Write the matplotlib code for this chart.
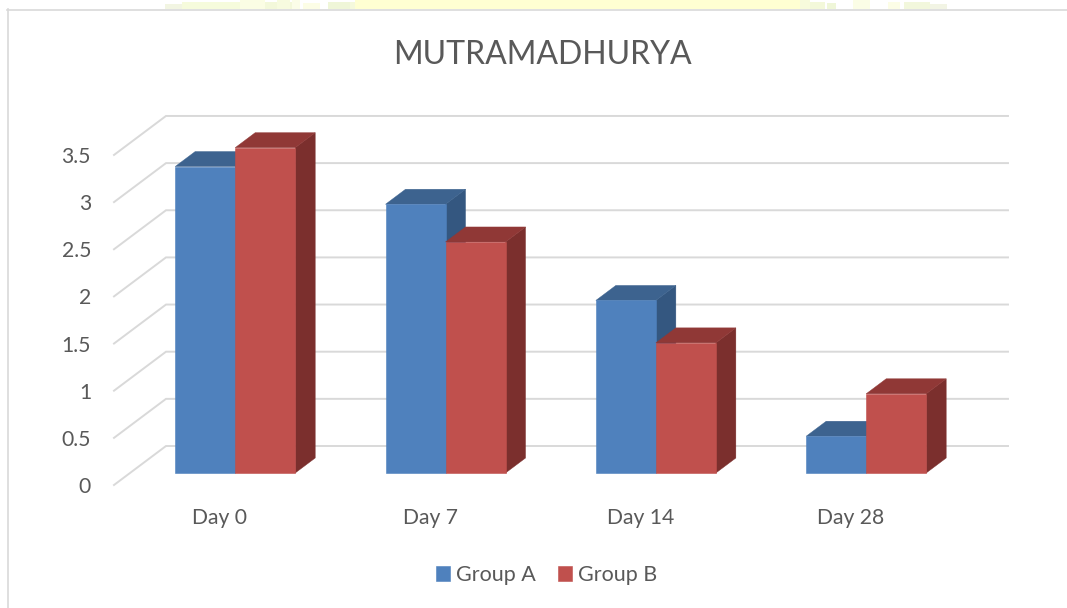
import matplotlib
matplotlib.use("Agg")
import matplotlib.pyplot as plt
from matplotlib.patches import Polygon, Rectangle
from matplotlib.transforms import Affine2D

plt.rcParams['font.family'] = ['Lato', 'DejaVu Sans']

title = "MUTRAMADHURYA"
categories = ["Day 0", "Day 7", "Day 14", "Day 28"]
group_a = [3.25, 2.85, 1.83, 0.39]
group_b = [3.45, 2.45, 1.38, 0.84]
series_names = ["Group A", "Group B"]
y_ticks = [0, 0.5, 1, 1.5, 2, 2.5, 3, 3.5]
y_tick_labels = ["0", "0.5", "1", "1.5", "2", "2.5", "3", "3.5"]

W, H = 1067, 608
TEXT = "#595959"
GRID = "#D9D9D9"

fig = plt.figure(figsize=(W / 100, H / 100), dpi=100, facecolor="white")

# pale watermark remains above the chart frame (x0, x1, y_bottom_px, colour)
strip = [(165, 182, 4, "#F2F5E2"), (182, 240, 2, "#F6FBDC"), (240, 265, 0, "#FBFDE4"),
         (265, 292, 2, "#F3F8DA"), (292, 300, 0, "#FBFDE8"), (277, 290, 0, "#F7FBDF"),
         (303, 320, 3, "#FCFDE6"), (328, 350, 2, "#EFF6D8"), (350, 355, 2, "#F5F9DC"),
         (355, 800, 0, "#FFFFD2"), (800, 810, 0, "#F7FBDC"), (810, 825, 2, "#F3F8DA"),
         (825, 870, 0, "#FFFFFF"), (827, 836, 3, "#EFF6D8"), (853, 870, 0, "#FBFDE6"),
         (888, 900, 2, "#FCFDE6"), (904, 930, 2, "#F2F7DC"), (930, 947, 4, "#F2F4E4")]
for x0, x1, yb, c in strip:
    fig.add_artist(Rectangle((x0 / W, 1 - 9 / H), (x1 - x0) / W, (9 - yb) / H,
                             transform=fig.transFigure, fc=c, ec="none", zorder=0))

# chart frame: top and left edges
fig.add_artist(plt.Line2D([7 / W, 1], [1 - 9.5 / H] * 2, color=GRID, lw=1.2, zorder=1))
fig.add_artist(plt.Line2D([7.5 / W] * 2, [0, 1 - 9 / H], color=GRID, lw=1.2, zorder=1))

# Axes spans the front plane; y=0 at pixel row 485, 94.3 px per unit
PX_Y = 94.3
PX_X = 210.33
L, R, B, T = 114, 1008, 485, 115
ax = fig.add_axes([L / W, 1 - B / H, (R - L) / W, (B - T) / H])
ax.set_xlim((L - 220) / PX_X, (R - 220) / PX_X)
ax.set_ylim(0, (B - T) / PX_Y)
ax.patch.set_alpha(0)
for s in ax.spines.values():
    s.set_visible(False)

# gridlines: front stub + back wall
dx_back, dy_back = 52 / PX_X, 39 / PX_Y
x_left = ax.get_xlim()[0]
x_right = ax.get_xlim()[1] - dx_back
for v in y_ticks:
    ax.plot([x_left, x_left + dx_back, x_right + dx_back], [v, v + dy_back, v + dy_back],
            color=GRID, lw=1.4, solid_joinstyle="miter", zorder=1, clip_on=False)

# bars sit 15 px right / 12 px up of the front plane
shift = ax.transData + Affine2D().translate(15.2, 12)
bar_w = 60 / PX_X
dx, dy = 20 / PX_X, 15 / PX_Y


def box(x, v, front, top, side, z, label=None):
    xl, xr = x - bar_w, x
    ax.add_patch(Polygon([(xr, 0), (xr + dx, dy), (xr + dx, v + dy), (xr, v)],
                         fc=side, ec=side, lw=0.3, transform=shift, zorder=z, clip_on=False))
    ax.add_patch(Polygon([(xl, v), (xl + dx, v + dy), (xr + dx, v + dy), (xr, v)],
                         fc=top, ec=top, lw=0.3, transform=shift, zorder=z, clip_on=False))
    return ax.bar(xl + bar_w / 2, v, bar_w, color=front, edgecolor=front, linewidth=0.4,
                  transform=shift, zorder=z + 0.2, clip_on=False, label=label)


for i, cat in enumerate(categories):
    box(i, group_a[i], "#4F81BD", "#3D638F", "#345780", 3 + i,
        series_names[0] if i == 0 else None)
    box(i + bar_w, group_b[i], "#C0504D", "#903836", "#7B2F2D", 3.5 + i,
        series_names[1] if i == 0 else None)

ax.set_xticks(range(len(categories)), categories)
ax.set_yticks(y_ticks, y_tick_labels)
ax.tick_params(axis="both", length=0, labelsize=15.2, labelcolor=TEXT)
ax.tick_params(axis="x", pad=16.5)
ax.tick_params(axis="y", pad=16.5)

fig.text(542 / W, 1 - 55.5 / H, title, ha="center", va="center", fontsize=23, color=TEXT)

leg = ax.legend(loc="center left", bbox_to_anchor=(436 / W, 1 - 575 / H),
                bbox_transform=fig.transFigure, ncol=2, frameon=False, fontsize=15.5,
                labelcolor=TEXT, handlelength=0.65, handleheight=0.65, handletextpad=0.3,
                columnspacing=1.0, borderpad=0, borderaxespad=0)

fig.savefig("out.png", dpi=100)
